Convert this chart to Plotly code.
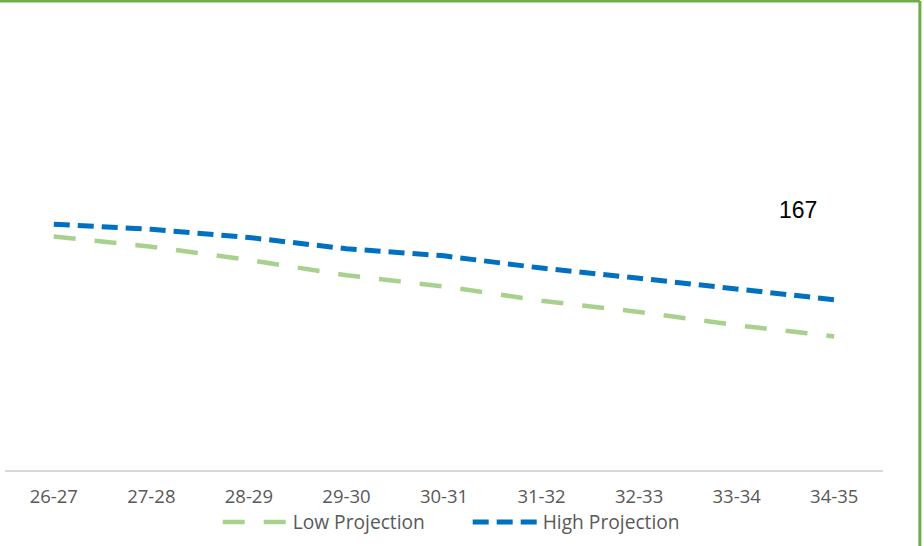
import plotly.graph_objects as go

categories = ["26-27", "27-28", "28-29", "29-30", "30-31", "31-32", "32-33", "33-34", "34-35"]
low_projection = [229, 219, 206, 191, 180, 166, 155, 142, 131]
high_projection = [241, 236, 228, 217, 210, 198, 188, 178, 167]
note_text = "167"

GREEN = "#A9D18E"
BLUE = "#0070C0"
BORDER = "#70AD47"
TXT = "#595959"

fig = go.Figure()
fig.add_trace(go.Scatter(
    x=categories, y=low_projection, mode="lines", name="Low Projection",
    line=dict(color=GREEN, width=4.5, dash="22px,19px"),
))
fig.add_trace(go.Scatter(
    x=categories, y=high_projection, mode="lines", name="High Projection",
    line=dict(color=BLUE, width=5, dash="16px,8px"),
))

fig.add_annotation(
    x=0.903, y=0.565, xref="paper", yref="paper", text=note_text,
    xanchor="center", yanchor="middle",
    showarrow=False, font=dict(family="Liberation Sans, Arial", size=23, color="#000000"),
)

# chart border (top and right visible)
fig.add_shape(type="line", xref="paper", yref="paper", x0=-0.02, x1=1.042, y0=1.0196, y1=1.0196,
              line=dict(color=BORDER, width=3))
fig.add_shape(type="line", xref="paper", yref="paper", x0=1.042, x1=1.042, y0=-0.2, y1=1.0196,
              line=dict(color=BORDER, width=3))

fig.update_layout(
    width=924, height=546,
    margin=dict(l=5, r=41, t=10, b=76),
    paper_bgcolor="white", plot_bgcolor="white",
    font=dict(family="Open Sans, sans-serif", size=18.5, color=TXT),
    showlegend=True,
    legend=dict(
        orientation="h", x=0.527, xanchor="center", y=-0.113, yanchor="middle",
        font=dict(family="Open Sans, sans-serif", size=19.2, color=TXT),
        itemwidth=65, entrywidth=170, entrywidthmode="pixels",
        bgcolor="rgba(0,0,0,0)", tracegroupgap=0,
    ),
    xaxis=dict(
        type="category", range=[-0.5, 8.5], showgrid=False, zeroline=False,
        showline=True, linecolor="#D9D9D9", linewidth=1.5,
        ticks="", ticklabelstandoff=9,
        tickfont=dict(family="Open Sans, sans-serif", size=18.5, color=TXT),
    ),
    yaxis=dict(
        range=[0, 451.1], showgrid=False, zeroline=False, showline=False,
        showticklabels=False, ticks="",
    ),
)

fig.write_html("out.html", config={"displayModeBar": False},
               post_script="document.body.style.margin='0';")
